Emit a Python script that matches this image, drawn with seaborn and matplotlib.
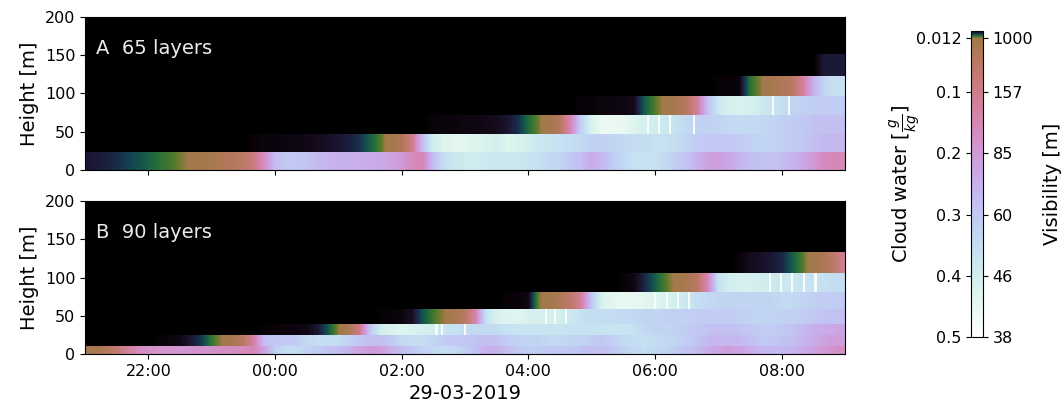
import numpy as np
import pandas as pd
import matplotlib
matplotlib.use("Agg")
import matplotlib.pyplot as plt
import matplotlib.dates as mdates
from matplotlib import colors, cm
import seaborn as sns

# ---------------- data ----------------
times = pd.date_range("2019-03-28 21:00", "2019-03-29 09:00", freq="10min")  # 73 steps

edges_A = [0, 23, 47.5, 72, 97, 122.5, 151]
edges_B = [0, 10.5, 24.5, 39, 59, 81, 106, 133]

# cloud water [g/kg] per model layer (bottom -> top), one value per 10 min
qc_A0 = [0.0024, 0.0028, 0.0032, 0.0038, 0.0048, 0.0058, 0.0068, 0.0080, 0.0090, 0.0105, 0.0125, 0.018, 0.025,
         0.033, 0.042, 0.055, 0.09, 0.17, 0.27, 0.30, 0.30, 0.29, 0.27, 0.26, 0.25,
         0.25, 0.25, 0.24, 0.24, 0.22, 0.20, 0.16, 0.15, 0.28, 0.35, 0.38, 0.39, 0.39, 0.39, 0.38, 0.38, 0.38,
         0.37, 0.36, 0.34, 0.33, 0.30, 0.28, 0.24,
         0.27, 0.31, 0.34, 0.36, 0.37, 0.36, 0.34, 0.31, 0.29, 0.25, 0.22, 0.21, 0.23, 0.26, 0.28, 0.29, 0.29,
         0.28, 0.26, 0.23, 0.20, 0.16, 0.15, 0.16]
qc_A1 = [0] * 16 + [0.0006, 0.0007, 0.0008, 0.0009, 0.001, 0.0012, 0.0015, 0.002, 0.0024,
                    0.0032, 0.0042, 0.0068, 0.0095, 0.015, 0.035, 0.10, 0.28, 0.40, 0.43, 0.44, 0.44, 0.43,
                    0.42, 0.40, 0.43, 0.42, 0.40, 0.38, 0.37, 0.36, 0.35, 0.34, 0.32,
                    0.32, 0.33, 0.34, 0.35, 0.35, 0.36, 0.36, 0.35, 0.33, 0.31, 0.30, 0.30, 0.30, 0.31, 0.32,
                    0.33, 0.33, 0.32, 0.31, 0.30, 0.28, 0.27, 0.26, 0.26]
qc_A2 = [0] * 33 + [0.0006, 0.0007, 0.0008, 0.0009, 0.001, 0.0012, 0.0016, 0.0024, 0.004, 0.0075, 0.0105,
                    0.018, 0.045, 0.15, 0.32, 0.42,
                    0.46, 0.46, 0.45, 0.43, 0.41, 0.40, 0.38, 0.36, 0.34, 0.32, 0.32, 0.33, 0.34, 0.34, 0.34,
                    0.34, 0.33, 0.32, 0.31, 0.30, 0.29, 0.28, 0.28, 0.28]
qc_A3 = [0] * 47 + [0.0005, 0.0006,
                    0.0008, 0.0009, 0.001, 0.0013, 0.0065, 0.0095, 0.013, 0.025, 0.045, 0.12, 0.28, 0.38,
                    0.41, 0.42, 0.41, 0.39, 0.37, 0.36, 0.33, 0.32, 0.31, 0.31, 0.31, 0.31]
qc_A4 = [0] * 60 + [0.0005, 0.0005, 0.0006, 0.008, 0.011, 0.02, 0.035, 0.05, 0.12, 0.25, 0.33, 0.36, 0.36]
qc_A5 = [0] * 70 + [0.0028, 0.0029, 0.0029]

qc_B0 = [0.018, 0.025, 0.04, 0.07, 0.12, 0.16, 0.18, 0.19, 0.19, 0.19, 0.19, 0.18, 0.18, 0.17, 0.17, 0.16,
         0.15, 0.22, 0.31, 0.35, 0.35, 0.33, 0.31, 0.29, 0.28,
         0.25, 0.22, 0.20, 0.21, 0.25, 0.28, 0.30, 0.32, 0.34, 0.35, 0.34, 0.32, 0.28, 0.25, 0.25, 0.28,
         0.30, 0.31, 0.31, 0.30, 0.30, 0.30, 0.29, 0.28,
         0.28, 0.30, 0.32, 0.34, 0.35, 0.34, 0.33, 0.31, 0.29, 0.27, 0.24, 0.22, 0.21, 0.22, 0.24, 0.26,
         0.27, 0.27, 0.26, 0.24, 0.22, 0.20, 0.18, 0.17]
qc_B1 = [0] * 7 + [0.0005, 0.0007, 0.001, 0.0025, 0.0045, 0.0085, 0.012, 0.025, 0.05, 0.13, 0.28, 0.30,
                   0.30, 0.31, 0.34, 0.35, 0.35, 0.35,
                   0.32, 0.30, 0.28, 0.28, 0.30, 0.34, 0.35, 0.35, 0.33, 0.31, 0.30, 0.30, 0.29, 0.28, 0.29,
                   0.31, 0.32, 0.33, 0.33, 0.34, 0.34, 0.33, 0.33, 0.31,
                   0.30, 0.32, 0.34, 0.35, 0.36, 0.35, 0.34, 0.33, 0.31, 0.29, 0.27, 0.26, 0.26, 0.27, 0.28,
                   0.30, 0.30, 0.29, 0.28, 0.26, 0.24, 0.22, 0.21, 0.21]
qc_B2 = [0] * 17 + [0.0005, 0.0006, 0.0007, 0.0008, 0.001, 0.0025, 0.006, 0.011,
                    0.03, 0.09, 0.30, 0.40, 0.42, 0.43, 0.42, 0.41, 0.40, 0.37, 0.36, 0.35, 0.34, 0.34, 0.35,
                    0.36, 0.37, 0.37, 0.37, 0.37, 0.37, 0.36, 0.36, 0.36,
                    0.37, 0.37, 0.37, 0.36, 0.34, 0.33, 0.33, 0.32, 0.31, 0.30, 0.29, 0.28, 0.28, 0.29, 0.30,
                    0.31, 0.31, 0.30, 0.29, 0.27, 0.25, 0.24, 0.23, 0.22]
qc_B3 = [0] * 28 + [0.0004, 0.0006, 0.0008, 0.0018, 0.006, 0.009, 0.0115, 0.025, 0.05, 0.14, 0.36, 0.42,
                    0.43, 0.43, 0.42, 0.41, 0.41, 0.40, 0.38, 0.36, 0.35,
                    0.35, 0.35, 0.34, 0.34, 0.33, 0.33, 0.32, 0.32, 0.32, 0.31, 0.31, 0.31, 0.31, 0.32, 0.32,
                    0.33, 0.33, 0.32, 0.32, 0.31, 0.30, 0.29, 0.29, 0.28]
qc_B4 = [0] * 40 + [0.0005, 0.0006, 0.001, 0.0105, 0.016, 0.035, 0.06, 0.12, 0.30,
                    0.42, 0.44, 0.45, 0.45, 0.44, 0.43, 0.42, 0.40, 0.38, 0.35, 0.34, 0.33, 0.33, 0.33, 0.33,
                    0.33, 0.33, 0.34, 0.34, 0.33, 0.32, 0.31, 0.31, 0.30]
qc_B5 = [0] * 51 + [0.0005, 0.001, 0.0035, 0.0065, 0.0095, 0.013, 0.025, 0.05, 0.15, 0.36, 0.40, 0.41,
                    0.41, 0.40, 0.39, 0.38, 0.38, 0.37, 0.36, 0.36, 0.35, 0.35]
qc_B6 = [0] * 62 + [0.0005, 0.0015, 0.002, 0.0025, 0.0035, 0.0065, 0.0095, 0.015, 0.03, 0.06, 0.12]

rows_A = [qc_A0, qc_A1, qc_A2, qc_A3, qc_A4, qc_A5]
rows_B = [qc_B0, qc_B1, qc_B2, qc_B3, qc_B4, qc_B5, qc_B6]

# short saturated spikes (layer index -> times on 29-03-2019), value of the spike
spikes_A = {2: ["05:53", "06:04", "06:14", "06:37"], 3: ["07:52", "08:07"]}
spikes_B = {2: ["02:33", "02:38", "03:00"], 3: ["04:17", "04:25", "04:36"],
            4: ["06:00", "06:11", "06:22", "06:32"], 5: ["07:49", "07:59", "08:10", "08:21", "08:32"]}
spike_value = 0.48

panel_labels = ["A  65 layers", "B  90 layers"]
cw_ticks = [0.012, 0.1, 0.2, 0.3, 0.4, 0.5]
cw_ticklabels = ["0.012", "0.1", "0.2", "0.3", "0.4", "0.5"]
vis_ticklabels = ["1000", "157", "85", "60", "46", "38"]
tick_hours = [22, 0, 2, 4, 6, 8]

# ---------------- style ----------------
sns.set_style("ticks", rc={
    "axes.edgecolor": "black", "text.color": "black", "axes.labelcolor": "black",
    "xtick.color": "black", "ytick.color": "black", "axes.linewidth": 0.8,
    "xtick.major.size": 3.5, "ytick.major.size": 3.5,
    "xtick.major.width": 0.8, "ytick.major.width": 0.8,
})
plt.rcParams["font.family"] = ["DejaVu Sans"]

cmap = plt.get_cmap("cubehelix")
norm = colors.TwoSlopeNorm(vmin=0.0, vcenter=0.012, vmax=0.5)

W, H = 1063, 404
fig = plt.figure(figsize=(W / 100, H / 100), dpi=100)


def rect(left, top, right, bottom):
    return [left / W, 1 - bottom / H, (right - left) / W, (bottom - top) / H]


axA = fig.add_axes(rect(85, 17, 845, 170))
axB = fig.add_axes(rect(85, 201, 845, 354))

tnum = mdates.date2num(times.to_pydatetime())
half = (tnum[1] - tnum[0]) / 2
spike_w = 2.0 / (24 * 60)


def draw_panel(ax, edges, rows, spikes, label, show_xlabels):
    ax.set_facecolor(cmap(0.0))
    for z0, z1, row in zip(edges[:-1], edges[1:], rows):
        ax.imshow(np.asarray(row, dtype=float)[None, :], extent=[tnum[0] - half, tnum[-1] + half, z0, z1],
                  origin="lower", aspect="auto", cmap=cmap, norm=norm,
                  interpolation="bilinear", interpolation_stage="data")
    for li, tl in spikes.items():
        xs = mdates.date2num(pd.to_datetime(["2019-03-29 " + s for s in tl]).to_pydatetime())
        ax.bar(xs, edges[li + 1] - edges[li], bottom=edges[li], width=spike_w,
               color=cmap(norm(spike_value)), linewidth=0, align="center")
    ax.set_xlim(tnum[0], tnum[-1])
    ax.set_ylim(0, 200)
    ax.set_yticks([0, 50, 100, 150, 200])
    ax.set_ylabel("Height [m]", fontsize=14)
    ax.xaxis.set_major_locator(mdates.HourLocator(byhour=tick_hours))
    ax.xaxis.set_major_formatter(mdates.DateFormatter("%H:%M"))
    ax.tick_params(labelsize=11.5)
    if not show_xlabels:
        ax.tick_params(labelbottom=False)
    ax.text(0.015, 0.795, label, transform=ax.transAxes, color="#ececec", fontsize=14,
            ha="left", va="center")


draw_panel(axA, edges_A, rows_A, spikes_A, panel_labels[0], False)
draw_panel(axB, edges_B, rows_B, spikes_B, panel_labels[1], True)
axB.set_xlabel("29-03-2019", fontsize=14)

# ---------------- colorbar ----------------
crect = rect(971, 31, 982.7, 337)
cax = fig.add_axes(crect)
sm = cm.ScalarMappable(norm=norm, cmap=cmap)
cb = fig.colorbar(sm, cax=cax)
cax.set_yscale("linear")
cax.set_ylim(0.5, 0.0)
cax.yaxis.set_ticks_position("left")
cax.yaxis.set_label_position("left")
cax.set_yticks(cw_ticks)
cax.set_yticklabels(cw_ticklabels)
cax.tick_params(labelsize=11.5)
cax.set_ylabel(r"Cloud water [$\frac{g}{kg}$]", fontsize=14)
cax.yaxis.set_label_coords(-4.15, 0.5)

tw = fig.add_axes(crect)
tw.patch.set_visible(False)
for s in tw.spines.values():
    s.set_visible(False)
tw.set_xticks([])
tw.set_ylim(0.5, 0.0)
tw.yaxis.tick_right()
tw.yaxis.set_label_position("right")
tw.set_yticks(cw_ticks)
tw.set_yticklabels(vis_ticklabels)
tw.tick_params(labelsize=11.5)
tw.set_ylabel("Visibility [m]", fontsize=14, labelpad=7)

fig.savefig("out.png", dpi=100)
